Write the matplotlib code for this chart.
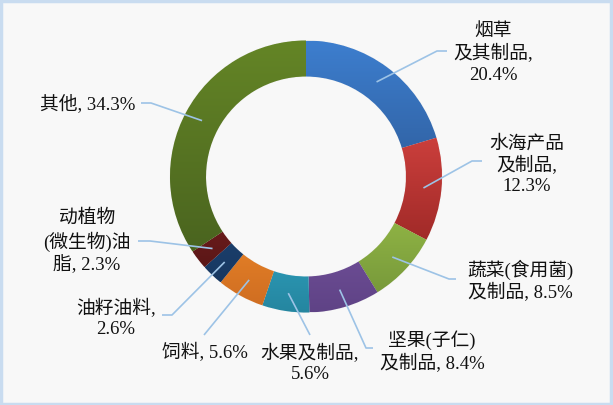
import matplotlib
matplotlib.use("Agg")
import matplotlib.pyplot as plt
import numpy as np
from matplotlib.patches import Rectangle
from matplotlib.colors import to_rgb

plt.rcParams['font.family'] = ['Liberation Serif', 'Noto Sans CJK SC']

# data
labels = ['烟草\n及其制品,\n20.4%', '水海产品\n及制品,\n12.3%', '蔬菜(食用菌)\n及制品, 8.5%',
          '坚果(子仁)\n及制品, 8.4%', '水果及制品,\n5.6%', '饲料, 5.6%', '油籽油料,\n2.6%',
          '动植物\n(微生物)油\n脂, 2.3%', '其他, 34.3%']
shares = [20.4, 12.3, 8.5, 8.4, 5.6, 5.6, 2.6, 2.3, 34.3]
top_colors = ['#3d7ece', '#cb3f3c', '#9dc24a', '#7f5aa8', '#36b4d4',
              '#f9932c', '#214b7e', '#7c2020', '#648526']
bottom_colors = ['#2f5f9f', '#a12a28', '#789a3b', '#5f4386', '#2586a0',
                 '#d06e22', '#173760', '#5b1717', '#4a641f']

# layout (pixel coords, y from top)
W, H = 613, 406
cx, cy, R, ring = 306, 177.5, 136, 36
text_pos = [(493, 53.5), (527, 165), (520, 281), (432, 351.5), (310, 363.5),
            (205, 353), (116, 318.5), (87, 242), (88, 104)]
elbows = [[(437, 52), (447, 52)], [(472, 162), (482, 162)], [(449, 280), (456, 280)],
          [(366, 349), (373, 349)], [(310, 336)], [(204, 336)],
          [(172, 316), (162, 316)], [(150, 242), (138, 242)], [(151, 104), (141, 104)]]

fig = plt.figure(figsize=(W / 100, H / 100), dpi=100)
fig.patch.set_facecolor('#f8f8f8')
ax = fig.add_axes([0, 0, 1, 1])

wedges, _ = ax.pie(shares, colors=top_colors, startangle=90, counterclock=False,
                   center=(cx, H - cy), radius=R,
                   wedgeprops=dict(width=ring, edgecolor='#f0f0f0', linewidth=0.6),
                   frame=True)

# vertical gradient inside each segment
for w, c1, c2 in zip(wedges, top_colors, bottom_colors):
    v = w.get_path().vertices
    x0, x1 = v[:, 0].min(), v[:, 0].max()
    y0, y1 = v[:, 1].min(), v[:, 1].max()
    t = np.linspace(0, 1, 64)[:, None]
    grad = (1 - t) * np.array(to_rgb(c1)) + t * np.array(to_rgb(c2))
    im = ax.imshow(grad[:, None, :].repeat(2, axis=1), extent=[x0, x1, y0, y1],
                   origin='upper', aspect='auto', interpolation='bilinear', zorder=1.5)
    im.set_clip_path(w)

ax.set_xlim(0, W)
ax.set_ylim(0, H)
ax.set_aspect('equal')
ax.axis('off')

for w, lab, (tx, ty), pts in zip(wedges, labels, text_pos, elbows):
    ang = np.deg2rad((w.theta1 + w.theta2) / 2)
    r0 = R - ring / 2
    xs = [cx + r0 * np.cos(ang)] + [p[0] for p in pts]
    ys = [H - cy + r0 * np.sin(ang)] + [H - p[1] for p in pts]
    ax.plot(xs, ys, color='#9dc3e6', lw=1.2, solid_capstyle='butt', zorder=3)
    ax.text(tx, H - ty, lab, ha='center', va='center', multialignment='center',
            fontsize=13.5, linespacing=1.25, color='#111111')

fig.patches.append(Rectangle((0.002, 0.003), 0.995, 0.993, transform=fig.transFigure,
                             fill=False, edgecolor='#c9dcf0', linewidth=2.5))

fig.savefig('out.png', dpi=100, facecolor=fig.get_facecolor())
